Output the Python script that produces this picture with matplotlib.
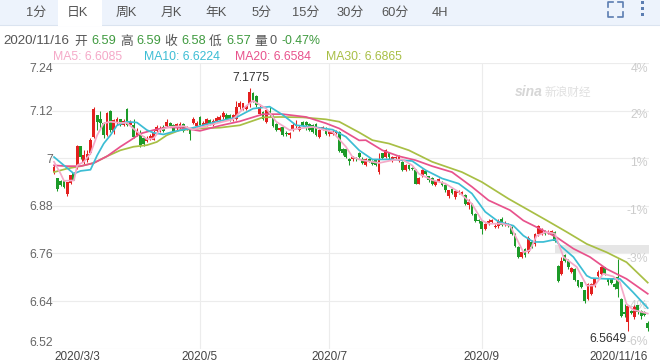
import matplotlib
matplotlib.use("Agg")
import matplotlib.pyplot as plt
from matplotlib.lines import Line2D
from matplotlib.patches import Rectangle

plt.rcParams['font.family'] = ['Liberation Sans', 'Noto Sans CJK SC', 'DejaVu Sans']

opens = [
 6.966,6.949,6.942,6.943,6.909,6.938,6.963,6.977,7.030,6.990,
 6.995,7.012,7.054,7.108,7.100,7.088,7.058,7.120,7.067,7.088,
 7.098,7.083,7.123,7.085,7.083,7.058,7.062,7.050,7.044,7.050,
 7.047,7.069,7.070,7.079,7.080,7.089,7.083,7.075,7.077,7.086,
 7.075,7.070,7.090,7.080,7.104,7.085,7.083,7.096,7.083,7.094,
 7.096,7.103,7.110,7.108,7.098,7.100,7.128,7.125,7.125,7.136,
 7.165,7.157,7.111,7.117,7.092,7.120,7.106,7.087,7.071,7.079,
 7.064,7.058,7.072,7.080,7.072,7.092,7.092,7.087,7.083,7.086,
 7.054,7.073,7.075,7.062,7.062,7.064,7.066,7.023,7.023,6.998,
 6.997,7.000,7.013,6.999,6.982,6.998,6.993,6.995,6.965,7.012,
 7.003,7.012,6.993,7.000,6.993,6.991,6.971,6.982,6.976,6.971,
 6.936,6.955,6.968,6.954,6.951,6.932,6.943,6.940,6.932,6.904,
 6.923,6.902,6.912,6.911,6.907,6.881,6.885,6.860,6.845,6.843,
 6.822,6.835,6.840,6.826,6.828,6.848,6.831,6.835,6.826,6.810,
 6.776,6.751,6.772,6.763,6.790,6.783,6.808,6.810,6.816,6.811,
 6.810,6.814,6.728,6.709,6.755,6.742,6.713,6.721,6.692,6.687,
 6.667,6.645,6.658,6.679,6.703,6.709,6.725,6.696,6.696,6.683,
 6.700,6.645,6.613,6.587,6.616,6.599,6.629,6.616,6.612,6.586]
closes = [
 6.978,6.923,6.933,6.928,6.940,6.957,6.946,7.030,7.003,7.007,
 7.010,7.047,7.125,7.092,7.088,7.058,7.114,7.071,7.096,7.100,
 7.083,7.094,7.083,7.092,7.054,7.069,7.033,7.037,7.050,7.055,
 7.064,7.079,7.077,7.069,7.092,7.081,7.069,7.086,7.087,7.069,
 7.078,7.062,7.100,7.090,7.083,7.090,7.098,7.088,7.094,7.102,
 7.104,7.114,7.100,7.098,7.108,7.130,7.140,7.138,7.132,7.168,
 7.145,7.134,7.128,7.100,7.121,7.108,7.081,7.071,7.075,7.058,
 7.060,7.064,7.083,7.085,7.079,7.083,7.085,7.071,7.066,7.058,
 7.070,7.078,7.061,7.068,7.067,7.068,7.018,7.013,7.002,6.993,
 7.003,6.997,7.003,6.988,6.997,6.994,6.985,6.982,6.997,7.000,
 7.020,7.002,7.002,7.003,7.003,6.971,6.982,6.974,6.972,6.936,
 6.951,6.970,6.961,6.944,6.936,6.943,6.948,6.932,6.919,6.919,
 6.912,6.917,6.917,6.915,6.885,6.890,6.860,6.843,6.842,6.822,
 6.835,6.843,6.845,6.830,6.843,6.831,6.837,6.830,6.808,6.780,
 6.752,6.763,6.755,6.800,6.776,6.808,6.828,6.822,6.810,6.815,
 6.816,6.791,6.690,6.742,6.742,6.725,6.723,6.694,6.679,6.675,
 6.641,6.683,6.683,6.696,6.714,6.725,6.709,6.688,6.685,6.675,
 6.671,6.603,6.608,6.627,6.610,6.626,6.613,6.603,6.606,6.572]
highs = [
 6.982,6.951,6.945,6.944,6.941,6.959,6.966,7.034,7.032,7.020,
 7.022,7.050,7.128,7.110,7.120,7.092,7.117,7.122,7.100,7.105,
 7.100,7.098,7.126,7.096,7.100,7.075,7.070,7.055,7.055,7.060,
 7.070,7.085,7.082,7.083,7.100,7.092,7.086,7.090,7.092,7.089,
 7.082,7.073,7.105,7.095,7.107,7.094,7.102,7.099,7.098,7.106,
 7.108,7.120,7.113,7.111,7.112,7.145,7.143,7.140,7.135,7.1775,
 7.167,7.159,7.137,7.120,7.125,7.130,7.108,7.089,7.078,7.081,
 7.068,7.067,7.090,7.097,7.083,7.095,7.095,7.090,7.086,7.088,
 7.073,7.082,7.078,7.072,7.070,7.072,7.068,7.026,7.025,7.000,
 7.006,7.002,7.016,7.002,7.000,7.000,6.996,6.998,7.012,7.014,
 7.023,7.014,7.005,7.006,7.007,6.993,6.985,6.985,6.979,6.973,
 6.953,6.973,6.971,6.956,6.953,6.946,6.951,6.942,6.934,6.921,
 6.925,6.920,6.920,6.918,6.909,6.897,6.887,6.862,6.848,6.845,
 6.838,6.846,6.848,6.834,6.846,6.851,6.842,6.838,6.829,6.812,
 6.778,6.766,6.775,6.803,6.793,6.811,6.831,6.825,6.819,6.818,
 6.819,6.817,6.730,6.750,6.758,6.745,6.726,6.723,6.694,6.689,
 6.669,6.686,6.686,6.699,6.718,6.728,6.727,6.698,6.698,6.685,
 6.747,6.647,6.632,6.630,6.618,6.629,6.631,6.618,6.614,6.590]
lows = [
 6.961,6.918,6.930,6.925,6.905,6.936,6.944,6.972,6.999,6.986,
 6.990,7.010,7.050,7.070,7.075,7.050,7.056,7.065,7.060,7.085,
 7.080,7.080,7.080,7.083,7.050,7.055,7.028,7.030,7.040,7.046,
 7.045,7.065,7.067,7.066,7.078,7.078,7.066,7.072,7.074,7.066,
 7.072,7.045,7.086,7.078,7.080,7.082,7.080,7.085,7.080,7.091,
 7.093,7.100,7.097,7.095,7.095,7.097,7.125,7.122,7.122,7.130,
 7.142,7.128,7.108,7.097,7.090,7.105,7.078,7.068,7.069,7.055,
 7.056,7.050,7.068,7.076,7.068,7.080,7.070,7.068,7.064,7.055,
 7.050,7.070,7.058,7.055,7.058,7.060,7.015,7.008,7.000,6.982,
 6.994,6.994,7.000,6.985,6.980,6.991,6.982,6.980,6.960,6.998,
 7.000,6.999,6.990,6.997,6.990,6.968,6.968,6.971,6.970,6.934,
 6.934,6.952,6.958,6.941,6.933,6.930,6.940,6.929,6.916,6.900,
 6.909,6.898,6.909,6.908,6.882,6.873,6.857,6.840,6.838,6.810,
 6.818,6.832,6.837,6.823,6.825,6.828,6.828,6.827,6.806,6.776,
 6.748,6.749,6.752,6.760,6.773,6.780,6.805,6.807,6.807,6.808,
 6.807,6.788,6.688,6.706,6.739,6.722,6.710,6.691,6.676,6.672,
 6.634,6.642,6.655,6.676,6.700,6.706,6.706,6.680,6.682,6.670,
 6.650,6.600,6.600,6.5649,6.607,6.595,6.608,6.595,6.603,6.565]

ma5_days = [0,2,3,6,7,9,11,13,15,17,20,22,25,28,30,32,35,39,42,44,49,54,57,60,64,67,71,74,78,84,88,90,92,
            93,98,102,105,108,110,114,118,122,126,129,131,135,137.5,139.5,141.5,143.5,145.5,148.5,151,153.6,
            157.6,160.6,163,165.6,168.6,170.6,172.6,174.6,179]
ma5_vals = [6.991,6.961,6.943,6.944,6.982,6.991,7.012,7.058,7.088,7.092,7.089,7.089,7.067,7.048,7.050,7.072,7.079,
            7.081,7.072,7.077,7.088,7.098,7.125,7.145,7.125,7.092,7.071,7.075,7.079,7.066,7.029,7.003,6.997,
            6.995,6.988,6.995,6.997,6.982,6.961,6.945,6.936,6.915,6.885,6.843,6.835,6.835,6.830,6.797,6.763,
            6.768,6.805,6.814,6.810,6.751,6.726,6.679,6.679,6.709,6.702,6.688,6.633,6.618,6.6085]
ma10_days = [0,3,6,8,11,13,15,17,19,22,25,28,30,33,36,41,44,49,55,60,65,69,73,78,84,88,92,96,102,108,112,117,
             122,126,130,134,138.5,141.5,144.5,147.5,151,152.6,156.6,160.6,162,166.6,170.6,174.6,179]
ma10_vals = [7.003,6.982,6.961,6.968,6.971,7.007,7.037,7.058,7.083,7.092,7.090,7.071,7.064,7.060,7.067,7.075,7.081,
             7.092,7.103,7.125,7.130,7.109,7.083,7.079,7.072,7.054,7.020,6.997,6.997,6.993,6.970,6.949,6.936,
             6.911,6.865,6.840,6.830,6.805,6.789,6.789,6.795,6.780,6.751,6.704,6.698,6.696,6.696,6.662,6.6224]
ma20_days = [0,4,8,12,16,20,23,26,30,34,38,44,50,56,63,69,76,82,86,92,94,99,104,109,114,120,126,131,137.5,141.5,
             147.5,151.5,156.6,161.6,166.6,172.6,179]
ma20_vals = [6.982,6.980,6.980,6.988,7.005,7.029,7.045,7.062,7.071,7.078,7.077,7.069,7.082,7.093,7.111,7.111,7.104,
             7.088,7.075,7.045,7.0455,7.020,7.005,6.995,6.980,6.965,6.928,6.894,6.869,6.843,6.818,6.801,6.772,
             6.751,6.721,6.696,6.6584]
ma30_days = [0,4,8,12,16,20,24,28,31,34,38,44,50,56,63,68,75,82,86,92,96,101,107,114,123,129,137,148.6,154.6,
             160.6,166.6,172.6,179]
ma30_vals = [6.965,6.974,6.980,6.988,7.005,7.020,7.029,7.033,7.041,7.058,7.071,7.075,7.077,7.083,7.103,7.104,7.103,
             7.098,7.092,7.065,7.0455,7.037,7.020,6.991,6.965,6.940,6.898,6.843,6.814,6.784,6.763,6.738,6.6865]

price_ticks = [7.24, 7.12, 7.0, 6.88, 6.76, 6.64, 6.52]
price_labels = ['7.24', '7.12', '7', '6.88', '6.76', '6.64', '6.52']
date_ticks = [0, 44, 83, 129, 179]
date_labels = ['2020/3/3', '2020/5', '2020/7', '2020/9', '2020/11/16']
pct_labels = ['4%', '2%', '1%', '-1%', '-3%', '-4%', '-6%']
tab_labels = ['1分', '日K', '周K', '月K', '年K', '5分', '15分', '30分', '60分', '4H']

W, H = 660, 364
RED, GREEN = '#e3201f', '#1c9a28'
fig = plt.figure(figsize=(W / 100, H / 100), dpi=100, facecolor='white')
ax = fig.add_axes([52 / W, 1 - 348.7 / H, (649 - 52) / W, (348.7 - 63) / H])
ax.set_xlim(-0.603, 179.38)
ax.set_ylim(6.52, 7.24)
for s in ax.spines.values():
    s.set_visible(False)
ax.set_axisbelow(True)
ax.grid(True, color='#ececec', lw=0.8)
ax.set_yticks(price_ticks, price_labels)
ax.set_xticks(date_ticks, date_labels)
ax.tick_params(length=0, labelsize=8.8, labelcolor='#666666')
ax.tick_params(axis='y', pad=-1)
ax.tick_params(axis='x', pad=1.5, labelsize=8.5, labelcolor='#444444')
ylabs = ax.get_yticklabels()
ylabs[0].set_va('top')
ylabs[-1].set_va('bottom')
xlabs = ax.get_xticklabels()
xlabs[0].set_ha('left')
xlabs[-1].set_ha('right')
xg = ax.xaxis.get_gridlines()
xg[0].set_visible(False)
xg[-1].set_visible(False)

ax.add_patch(Rectangle((151, 6.76), 28.4, 0.0225, fc='#e6e6e6', ec='none', zorder=1))


def fx(x):
    return x / W


def fy(y):
    return 1 - y / H


for lab, y in zip(pct_labels, [69, 115, 163, 211, 259, 306, 342]):
    ax.text(fx(648), fy(y), lab, transform=fig.transFigure, ha='right', va='center',
            fontsize=8.8, color='#cccccc', zorder=1.5)

ax.text(fx(515), fy(92.5), 'sina', transform=fig.transFigure, ha='left', va='center',
        fontsize=10, style='italic', weight='bold', color='#d6d6d6', zorder=1.5)
ax.text(fx(545), fy(92.5), '新浪财经', transform=fig.transFigure, ha='left', va='center',
        fontsize=8.4, color='#e0e0e0', zorder=1.5)

for i, (o, c, h, l) in enumerate(zip(opens, closes, highs, lows)):
    col = RED if c >= o else GREEN
    ax.vlines(i, l, h, color=col, lw=0.75, zorder=3, clip_on=False)
    ax.bar(i, abs(c - o), bottom=min(o, c), width=0.85, color=col, lw=0, zorder=3, clip_on=False)

for d, v, col in [(ma30_days, ma30_vals, '#a8bf45'), (ma20_days, ma20_vals, '#e8528c'),
                  (ma10_days, ma10_vals, '#3cbdd4'), (ma5_days, ma5_vals, '#f5a9c8')]:
    ax.plot(d, v, color=col, lw=1.25, zorder=4, solid_joinstyle='round', clip_on=False)

ax.text(59.5, 7.1775 + 0.0235, '7.1775', ha='center', va='center', fontsize=8.8, color='#333333', zorder=5)
fig.text(fx(608), fy(339), '6.5649', ha='center', va='center', fontsize=8.8, color='#333333', zorder=5)

# tab bar
fig.add_artist(Rectangle((0, fy(25)), 1, 25 / H, transform=fig.transFigure, fc='#edf3fc', ec='none', zorder=-2))
fig.add_artist(Line2D([0, 1], [fy(25.3)] * 2, color='#dbe4f0', lw=0.8, zorder=-1))
fig.add_artist(Rectangle((fx(58), fy(26)), 44 / W, 26 / H, transform=fig.transFigure, fc='white', ec='none', zorder=-1))
for lab, x in zip(tab_labels, [36, 77, 126, 171, 216, 262, 306, 350, 395, 440]):
    fig.text(fx(x), fy(13), lab, ha='center', va='center', fontsize=9.3, color='#555555')

# toolbar icons
icon = '#5b7db1'
for x0, dx in [(608, 5), (623, -5)]:
    for y0, dy in [(1.5, 5), (16.5, -5)]:
        fig.add_artist(Line2D([fx(x0 + dx), fx(x0), fx(x0)], [fy(y0), fy(y0), fy(y0 + dy)], color=icon, lw=1.2))
for y in [2.5, 8.5, 14.5]:
    fig.add_artist(Rectangle((fx(641), fy(y + 1.3)), 2.6 / W, 2.6 / H, transform=fig.transFigure, fc=icon, ec='none'))

# quote line
gray, grn = '#555555', '#3f9a3f'
for s, x, col, fs in [('2020/11/16', 3, gray, 9.6), ('开', 74, gray, 9.2), ('6.59', 91, grn, 9.2), ('高', 120, gray, 9.2),
                      ('6.59', 136, grn, 9.2), ('收', 164, gray, 9.2), ('6.58', 181, grn, 9.2), ('低', 209, gray, 9.2),
                      ('6.57', 226, grn, 9.2), ('量', 254, gray, 9.2), ('0', 270, gray, 9.2), ('-0.47%', 282, grn, 8.9)]:
    fig.text(fx(x), fy(41.5), s, ha='left', va='center', fontsize=fs, color=col)
for s, x, col in [('MA5: 6.6085', 53, '#f5a9c8'), ('MA10: 6.6224', 144, '#3cbdd4'),
                  ('MA20: 6.6584', 235, '#e8528c'), ('MA30: 6.6865', 326, '#a8bf45')]:
    fig.text(fx(x), fy(56.5), s, ha='left', va='center', fontsize=8.8, color=col)

fig.savefig('out.png', dpi=100, facecolor='white')
